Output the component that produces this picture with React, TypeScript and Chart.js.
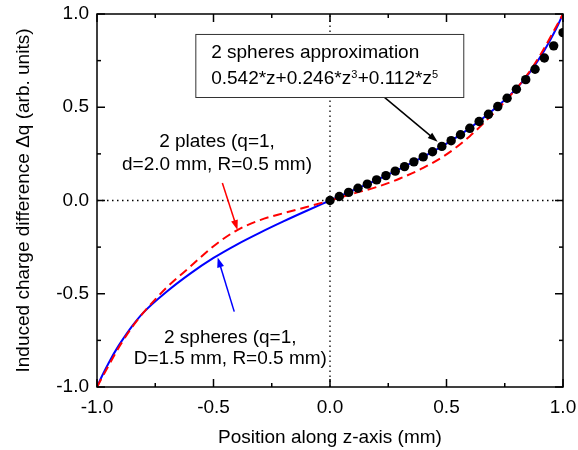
import React, { useEffect, useRef } from "react";
import { Chart, registerables } from "chart.js";

Chart.register(...registerables);

const FONT = "'Liberation Sans', Arial, sans-serif";
const FS = 19;

// Axis ticks
const majorTicks = [-1, -0.5, 0, 0.5, 1];
const minorTicks = [-0.75, -0.25, 0.25, 0.75];

// 2 spheres (q=1, D=1.5 mm, R=0.5 mm) — blue solid
const sphereZ = [-1, -0.98, -0.96, -0.94, -0.92, -0.9, -0.85, -0.8, -0.7, -0.6, -0.5, -0.4, -0.3, -0.2, -0.1, 0,
  0.1, 0.2, 0.3, 0.4, 0.5, 0.6, 0.7, 0.8, 0.85, 0.9, 0.92, 0.94, 0.96, 0.98, 1];
const sphereQ = [-1, -0.945, -0.895, -0.848, -0.805, -0.765, -0.675, -0.6, -0.488, -0.392, -0.308, -0.236, -0.172, -0.112, -0.055, 0,
  0.055, 0.11, 0.17, 0.234, 0.305, 0.388, 0.485, 0.6, 0.675, 0.765, 0.805, 0.848, 0.895, 0.945, 1];

// 2 plates (q=1, d=2.0 mm, R=0.5 mm) — red dashed
const plateZ = [-1, -0.95, -0.9, -0.85, -0.8, -0.75, -0.7, -0.6, -0.5, -0.4, -0.3, -0.2, -0.1, 0,
  0.1, 0.2, 0.3, 0.4, 0.5, 0.6, 0.7, 0.75, 0.8, 0.85, 0.9, 0.95, 1];
const plateQ = [-1, -0.885, -0.775, -0.68, -0.6, -0.53, -0.465, -0.355, -0.245, -0.16, -0.105, -0.068, -0.035, 0,
  0.037, 0.072, 0.118, 0.175, 0.247, 0.345, 0.465, 0.53, 0.6, 0.68, 0.775, 0.885, 1];

// 2 spheres approximation — black dots
const approxZ = [0, 0.04, 0.08, 0.12, 0.16, 0.2, 0.24, 0.28, 0.32, 0.36, 0.4, 0.44, 0.48, 0.52, 0.56, 0.6,
  0.64, 0.68, 0.72, 0.76, 0.8, 0.84, 0.88, 0.92, 0.96, 1];
const approxQ = [0, 0.0217, 0.0435, 0.0655, 0.0877, 0.1104, 0.1336, 0.1574, 0.1819, 0.2073, 0.2337, 0.2613,
  0.2902, 0.3207, 0.3528, 0.387, 0.4234, 0.4621, 0.5037, 0.5485, 0.5963, 0.6479, 0.7037, 0.764, 0.8293, 0.9];

const pts = (xs: number[], ys: number[]) => xs.map((x, i) => ({ x, y: ys[i] }));

const framePlugin = {
  id: "frameAndNotes",
  afterDraw(chart: any) {
    const { ctx, chartArea: a, scales } = chart;
    const X = (v: number) => scales.x.getPixelForValue(v);
    const Y = (v: number) => scales.y.getPixelForValue(v);
    ctx.save();
    const line = (x1: number, y1: number, x2: number, y2: number) => {
      ctx.beginPath();
      ctx.moveTo(x1, y1);
      ctx.lineTo(x2, y2);
      ctx.stroke();
    };
    // frame
    ctx.strokeStyle = "#000";
    ctx.lineWidth = 1.5;
    ctx.strokeRect(a.left, a.top, a.right - a.left, a.bottom - a.top);
    // ticks (inward, all four sides)
    const tick = (t: number, len: number) => {
      const px = X(t);
      line(px, a.bottom, px, a.bottom - len);
      line(px, a.top, px, a.top + len);
      const py = Y(t);
      line(a.left, py, a.left + len, py);
      line(a.right, py, a.right - len, py);
    };
    majorTicks.forEach((t) => tick(t, 8));
    minorTicks.forEach((t) => tick(t, 4));

    // arrows
    const arrow = (x1: number, y1: number, x2: number, y2: number, color: string) => {
      const ax = X(x1), ay = Y(y1), bx = X(x2), by = Y(y2);
      ctx.strokeStyle = color;
      ctx.fillStyle = color;
      ctx.lineWidth = 1.5;
      const ang = Math.atan2(by - ay, bx - ax);
      const L = 10, W = 3.5;
      line(ax, ay, bx - Math.cos(ang) * L * 0.8, by - Math.sin(ang) * L * 0.8);
      ctx.beginPath();
      ctx.moveTo(bx, by);
      ctx.lineTo(bx - Math.cos(ang) * L - Math.sin(ang) * W, by - Math.sin(ang) * L + Math.cos(ang) * W);
      ctx.lineTo(bx - Math.cos(ang) * L + Math.sin(ang) * W, by - Math.sin(ang) * L - Math.cos(ang) * W);
      ctx.closePath();
      ctx.fill();
    };
    arrow(0.23, 0.557, 0.462, 0.315, "#000");
    arrow(-0.462, 0.094, -0.397, -0.158, "#ff0000");
    arrow(-0.411, -0.596, -0.482, -0.305, "#0000ff");

    // approximation box
    const bl = X(-0.578), br = X(0.572), bt = Y(0.893), bb = Y(0.555);
    ctx.fillStyle = "#fff";
    ctx.fillRect(bl, bt, br - bl, bb - bt);
    ctx.strokeStyle = "#333";
    ctx.lineWidth = 1;
    ctx.strokeRect(bl + 0.5, bt + 0.5, br - bl, bb - bt);

    ctx.fillStyle = "#000";
    ctx.textBaseline = "alphabetic";
    ctx.textAlign = "left";
    ctx.font = `${FS}px ${FONT}`;
    const tx = X(-0.51);
    ctx.fillText("2 spheres approximation", tx, Y(0.766));
    const segs: [string, boolean][] = [
      ["0.542*z+0.246*z", false], ["3", true], ["+0.112*z", false], ["5", true],
    ];
    let cx = tx;
    const by2 = Y(0.625);
    for (const [s, sup] of segs) {
      ctx.font = sup ? `11px ${FONT}` : `${FS}px ${FONT}`;
      ctx.fillText(s, cx, sup ? by2 - 6 : by2);
      cx += ctx.measureText(s).width + (sup ? 0.5 : 0);
    }

    // labels
    ctx.font = `${FS}px ${FONT}`;
    ctx.textAlign = "center";
    ctx.fillText("2 plates (q=1,", X(-0.485), Y(0.288));
    ctx.fillText("d=2.0 mm, R=0.5 mm)", X(-0.485), Y(0.164));
    ctx.fillText("2 spheres (q=1,", X(-0.428), Y(-0.764));
    ctx.fillText("D=1.5 mm, R=0.5 mm)", X(-0.428), Y(-0.877));
    ctx.restore();
  },
};

export default function App() {
  const ref = useRef<HTMLCanvasElement>(null);
  useEffect(() => {
    document.body.style.margin = "0";
    const chart = new Chart(ref.current!, {
      type: "scatter",
      data: {
        datasets: [
          {
            label: "approx",
            data: pts(approxZ, approxQ),
            showLine: false,
            pointRadius: 4.7,
            pointBackgroundColor: "#000",
            pointBorderWidth: 0,
          },
          {
            label: "plates",
            data: pts(plateZ, plateQ),
            showLine: true,
            borderColor: "#ff0000",
            borderWidth: 2,
            borderDash: [9, 5],
            pointRadius: 0,
            cubicInterpolationMode: "monotone",
          },
          {
            label: "spheres",
            data: pts(sphereZ, sphereQ),
            showLine: true,
            borderColor: "#0000ff",
            borderWidth: 2,
            pointRadius: 0,
            cubicInterpolationMode: "monotone",
          },
          {
            label: "y0",
            data: pts([-1, 1], [0, 0]),
            showLine: true,
            borderColor: "#000",
            borderWidth: 1.3,
            borderDash: [1.5, 3.5],
            pointRadius: 0,
          },
          {
            label: "x0",
            data: pts([0, 0], [-1, 1]),
            showLine: true,
            borderColor: "#000",
            borderWidth: 1.3,
            borderDash: [1.5, 3.5],
            pointRadius: 0,
          },
        ] as any,
      },
      options: {
        animation: false,
        responsive: false,
        devicePixelRatio: 1,
        layout: { padding: { top: 14, right: 15, left: 0, bottom: 0 } },
        plugins: { legend: { display: false }, tooltip: { enabled: false } },
        scales: {
          x: {
            type: "linear",
            min: -1,
            max: 1,
            grid: { display: false, drawTicks: false },
            border: { display: false },
            ticks: {
              stepSize: 0.5,
              autoSkip: false,
              maxRotation: 0,
              padding: 9,
              color: "#000",
              font: { family: FONT, size: FS },
              callback: (v: any) => Number(v).toFixed(1),
            },
            title: {
              display: true,
              text: "Position along z-axis (mm)",
              color: "#000",
              font: { family: FONT, size: FS },
              padding: 1,
            },
            afterFit: (s: any) => {
              s.height = 63;
              s.paddingLeft = 0;
              s.paddingRight = 0;
            },
          },
          y: {
            type: "linear",
            min: -1,
            max: 1,
            grid: { display: false, drawTicks: false },
            border: { display: false },
            ticks: {
              stepSize: 0.5,
              padding: 8,
              color: "#000",
              font: { family: FONT, size: FS },
              callback: (v: any) => Number(v).toFixed(1),
            },
            title: {
              display: true,
              text: "Induced charge difference \u0394q (arb. units)",
              color: "#000",
              font: { family: FONT, size: FS },
              padding: 12.5,
            },
            afterFit: (s: any) => {
              s.width = 97;
              s.paddingTop = 0;
              s.paddingBottom = 0;
            },
          },
        },
      } as any,
      plugins: [framePlugin],
    });
    return () => chart.destroy();
  }, []);
  return <canvas ref={ref} width={578} height={450} style={{ display: "block" }} />;
}
